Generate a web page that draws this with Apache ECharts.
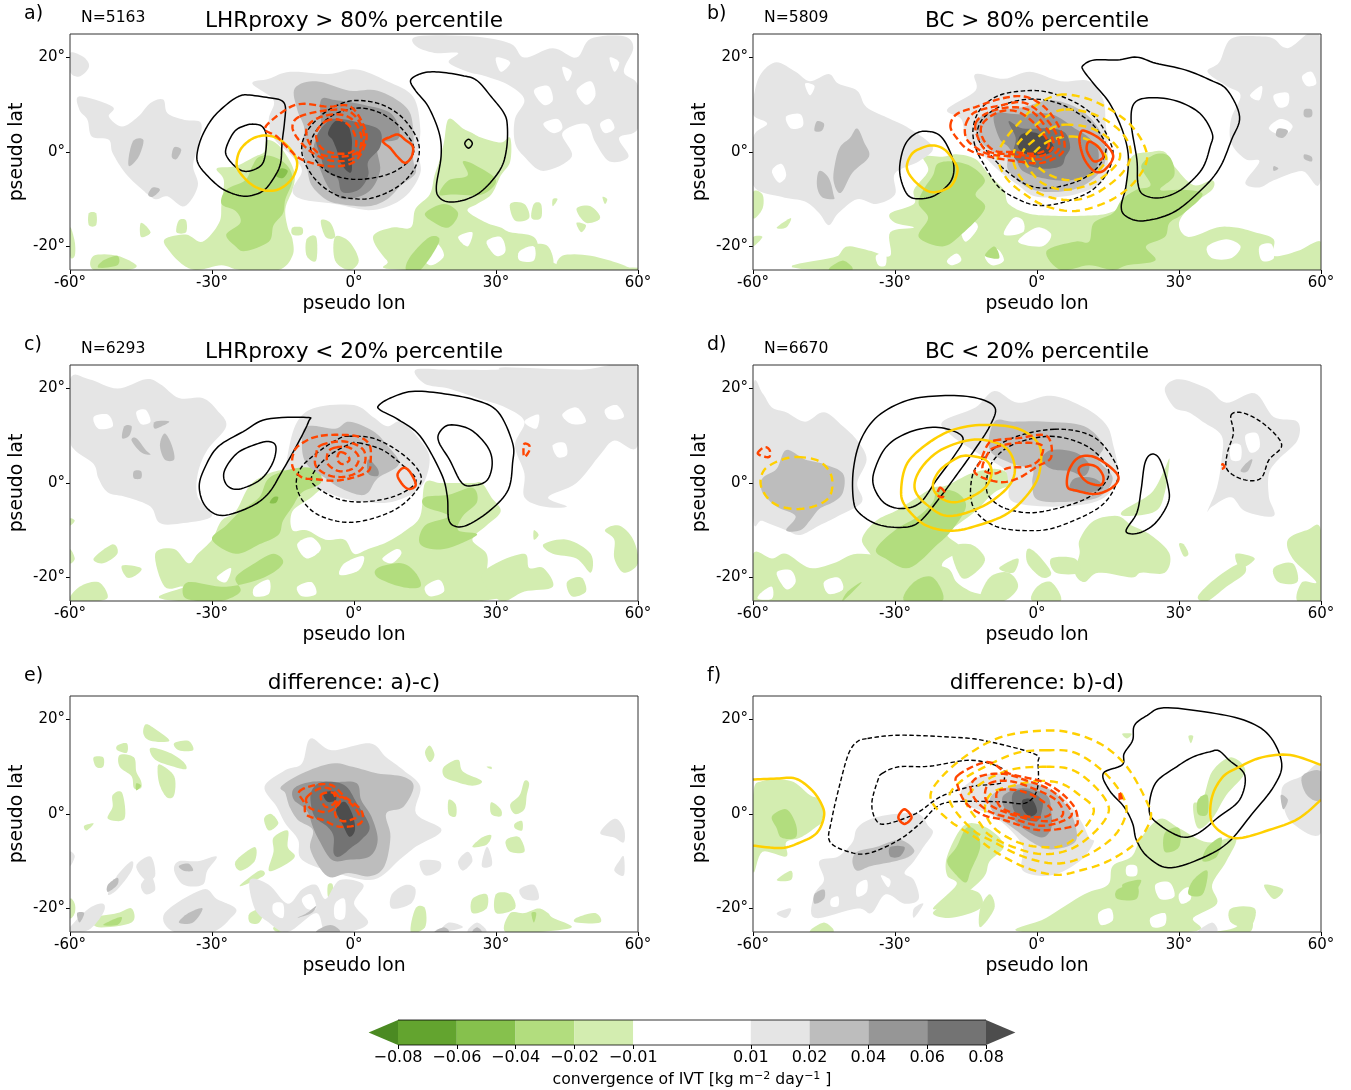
<!DOCTYPE html>
<html><head><meta charset="utf-8">
<script src="https://cdn.jsdelivr.net/npm/echarts@6/dist/echarts.min.js"></script>
<style>html,body{margin:0;padding:0;background:#fff}#c{width:1351px;height:1090px}</style></head>
<body><div id="c"></div>
<script>
// ---------- tick labels / text ----------
const lonTicks=[-60,-30,0,30,60];
const latTicks=[-20,0,20];
const panelLetters=['a)','b)','c)','d)','e)','f)'];
const panelTitles=['LHRproxy > 80% percentile','BC > 80% percentile','LHRproxy < 20% percentile','BC < 20% percentile','difference: a)-c)','difference: b)-d)'];
const panelCounts=['N=5163','N=5809','N=6293','N=6670','',''];
const cbarLabels=['−0.08','−0.06','−0.04','−0.02','−0.01','','0.01','0.02','0.04','0.06','0.08'];

// ---------- panel a (lon,lat) ----------
const aGreen1=[
[[-18.5,2.5],[-16,1.5],[-13.5,-2],[-12.5,-5],[-13,-8],[-14.5,-12],[-14,-16],[-13,-18.5],[-13,-22],[-16,-25],[-24,-25],[-28,-24],[-33,-25],[-36,-24],[-39,-21],[-40,-18.5],[-35.5,-17.5],[-32,-19],[-28.5,-15],[-28,-11],[-27.5,-6],[-29,-3.5],[-25,-3],[-21,-1],[-19,0]],
[[20,7],[23,5],[25,4],[27,3],[31,2],[33,3],[33,-2],[31,-5],[29,-9],[26,-11],[24,-12.5],[28,-15],[31,-16],[33,-17],[38,-18],[40,-22],[46,-24.5],[60,-24.5],[60,-25],[11,-25],[7,-23],[4,-18],[8,-16],[12,-16],[13,-12],[16,-9],[17,-5],[18,-2],[19,2]],
[[-60,-16],[-59,-19],[-59,-22],[-60,-22]],[[-55,-22],[-50,-22],[-46,-24],[-48,-25],[-55,-25]],[[-45,-15],[-43,-17],[-45,-18]],[[-56,-13],[-54.5,-13],[-54.5,-15.5],[-56,-15.5]],
[[-37,-14.5],[-35.5,-14.5],[-35.5,-17],[-37.5,-17]],[[-13,-16],[-11,-16],[-11,-17.5],[-13,-17.5]],[[-7,-14.5],[-5,-15],[-4,-18],[-6,-18]],[[-4,-18],[-1,-19],[1,-23],[-1,-25],[-4,-23]],[[-10,-18.5],[-8,-18],[-8,-23],[-10,-22]],
[[33,-11],[36,-11],[37,-14],[34,-14.5]],[[38,-11],[39.5,-11],[39.5,-14],[37.5,-14]],[[42,-10],[43,-10],[42,-11.5]],[[47,-12],[50,-11.5],[52,-14],[49,-15]],[[47,-15],[49,-15.5],[48,-17]],[[52.5,-9.5],[53.5,-10],[53,-11]],[[38,-20],[41,-20],[42,-24],[38,-25]],[[44,-22],[50,-22],[57,-24],[57,-25],[44,-25]]];
const aGrey1=[
[[-21.5,14.5],[-18,15.5],[-13.5,17],[-5.5,16.5],[0.5,17.5],[7,15],[12.5,11.7],[14,5],[13.5,0],[14,-4.5],[10.5,-9.7],[4,-12.3],[-4,-11],[-11,-10],[-13,-8],[-11,-4],[-13,-1],[-17,3],[-18,7],[-17,11]],
[[-58,11.8],[-51,9.6],[-51.8,7.5],[-49,5.4],[-45.6,7.5],[-43,10.4],[-40.3,11.1],[-39.4,8.2],[-35.8,6.8],[-32.3,6.1],[-33,1.2],[-34,-3],[-33,-7.2],[-35.8,-11.5],[-39.4,-9.4],[-42,-10],[-44.7,-8],[-48.3,-4.5],[-51,-0.2],[-51.8,2.6],[-55.4,3.3],[-56.3,6.8],[-58,8.9]],
[[13.5,24.5],[25,24.5],[33,23],[36,20],[42,22],[47,20],[50,24],[57,24.5],[59,22],[57,17],[60,14],[60,5],[56,3],[58,-1],[54,-2],[51,2],[49,6],[44,4],[46,-1],[40,-4],[36,-1],[34,2],[34,7],[36,11],[33,14],[28,16],[24,17],[20,19],[22,21],[17,21],[13,22.5]],
[[-60,21],[-57,20],[-56,18],[-58,16],[-60,17]]];
const aHoles=[[[38,13],[41,14],[42,11],[40,10]],[[47,13],[50,15],[51,12],[49,10]],[[40,6],[43,7],[44,5],[42,4]],[[52,6],[54,7],[55,5],[53,4]],[[30,20],[33,19],[31,17]],[[44,18],[46,17],[45,15]],[[54,20],[56,19],[55,17]],
[[28,-19],[31,-18],[32,-21],[30,-22]],[[14,-21],[17,-19],[19,-22],[16,-24]],[[35,-21],[38,-20],[38,-23],[35,-23]],[[22,-18],[25,-17],[24,-20]]];
const aGreen2=[
[[-20,-1],[-17,-1],[-14,-3],[-13,-6],[-14.5,-10],[-15,-13],[-17,-15.5],[-18,-19],[-23,-21],[-25,-20],[-27,-17.5],[-24,-15],[-25,-12.5],[-28,-11],[-27,-8],[-23,-6],[-21.5,-3]],
[[23,-2],[26,-3],[30,-6],[27,-9],[21,-9],[18,-9],[20,-6],[24,-5]],[[19,-11],[22,-13],[20,-16],[17,-15],[15,-13]],[[16,-18],[18,-19],[14,-25],[11,-25],[12,-22]],[[-53,-23],[-50,-22],[-50,-24],[-54,-24.5]]];
const aGreen3=[[[-15.5,-3.5],[-14,-4],[-15,-5.5],[-16.5,-5]]];
const aGrey2=[
[[-12.5,13.5],[-8,15],[-1,13],[5,13],[11,9.5],[12.5,5],[12.5,-1.5],[13,-4.5],[10,-7],[7,-10],[3,-11.5],[-3,-11],[-6,-10],[-9,-7],[-10,-3],[-11,1],[-10.5,5],[-12,9]],
[[-46.5,2.5],[-44.5,2.5],[-45.5,-1],[-47.5,-3],[-47.5,-0.5]],[[-38,1],[-36.5,0.5],[-37.5,-1.5],[-38.5,-1]],[[-42.5,-7.5],[-41,-8],[-42.5,-9.5],[-43.5,-9]]];
const aGrey3=[[[-7,11],[-4,11],[2,10],[8,8],[9.5,3],[5,1.5],[5.5,-4],[3,-8.5],[-2,-10],[-5,-8],[-7,-4],[-8.5,1],[-7,5]]];
const aGrey4=[[[-5.5,6.5],[-3,7],[2,6],[5.5,4.5],[5.5,1],[3,-2],[3,-5],[1,-8],[-2.5,-8.5],[-3.5,-5.5],[-6,-4],[-7,-1],[-8,3]]];
const aGrey5=[[[-4,6.5],[-1.5,6],[-0.5,3],[-0.5,0],[-0.5,-4],[-1.5,-4],[-3,-2],[-3.5,0],[-4.5,2.5],[-5.5,4]]];
const aBlack=[
[[-22.5,12.1],[-18,11.5],[-15.5,11],[-14.5,9.6],[-14.7,6.1],[-15.2,1.9],[-15.5,-2.3],[-16.7,-5.1],[-18.9,-8],[-21.6,-9.2],[-24.3,-9.2],[-27.8,-7.8],[-30.9,-5.1],[-33,-2.3],[-33,0.5],[-31.8,4],[-29.6,7.5],[-26.5,10.4],[-24.3,11.8]],
[[-21.2,5.9],[-19.4,5.4],[-18.5,3.3],[-18.8,-0.9],[-19.8,-3],[-22.5,-4.1],[-24.7,-3.4],[-26.9,-0.9],[-26.9,1.2],[-25.2,4.4],[-23,5.6]],
[[12,15.3],[14.8,16.8],[18.4,16.9],[22.8,16.2],[25.9,15.2],[29,11.7],[31.7,8.2],[32.4,5.4],[32.2,0.5],[30.9,-3.7],[27.3,-8],[23.8,-10],[20.2,-10.6],[18,-9.6],[17.4,-7.2],[18.4,-0.9],[18,4],[15.7,9.6],[13,13]],
[[24.2,2.7],[25,1.8],[24.2,0.8],[23.4,1.8]]];
const aBlackDash=[
[[1.5,10.9],[6,10],[10,7.5],[13,3.5],[13.8,0],[12.5,-4],[9,-7.5],[4,-9.7],[0,-9.9],[-4,-9],[-8,-6],[-10.5,-2],[-11,1.5],[-9.5,5],[-6,8.5],[-2,10.5]],
[[0.5,9.3],[5,8.5],[9,6],[12,2.5],[12.6,0],[11,-2.5],[7,-4.8],[1,-5.8],[-4,-5],[-7.5,-2.5],[-9.2,1],[-8,4.5],[-4.5,7.8]]];
const aGold=[[[-18.4,3.5],[-15.5,2.5],[-13,0],[-12,-2.5],[-13,-5.5],[-15.5,-7.7],[-18.4,-8.2],[-21.5,-7],[-24,-4.5],[-24.8,-2.5],[-24,0.5],[-21.5,2.8]]];
const aOrange=[[[9.3,3.7],[10.8,2.6],[12.4,1.2],[12.2,-0.9],[10.8,-2.3],[9.1,-0.9],[7.7,0.8],[6.1,2.3],[7.7,3.2]]];
const aOrangeDash=[
[[-18.8,5.1],[-14.5,8.9],[-11,10.2],[-5.6,9.6],[-0.7,9.6],[2.4,4.7],[2.2,1.2],[-0.3,-2.3],[-5.6,-3],[-11,-1.6],[-13.6,0.5],[-16.3,3.3]],
[[-11.5,7.5],[-6,8.8],[-1,8.6],[1.8,5],[1.8,1.2],[-0.5,-1.5],[-5,-1.8],[-9,0],[-12,3],[-13,5.5]],
[[-8,7],[-4,8],[-0.5,7],[1.5,3.5],[0.8,0],[-3,-1],[-7,-0.5],[-9.5,2],[-10,5]],
[[-6,6.5],[-3,6.8],[-0.5,5],[0.5,2],[-0.5,0],[-4,-0.3],[-7,1],[-8,4]]];

// ---------- panel b ----------
const bGreen1=[
[[-24,-1],[-20,-1],[-17,-0.5],[-13,-1.5],[-10,-5],[-7,-8],[-6,-11],[-2,-13],[3,-13.5],[10,-13.5],[15,-13],[18,-11],[19,-6],[20,-1],[24,0],[27,0],[29,-3],[33,-7],[37,-6],[37,-8],[33,-11],[30,-15],[32,-18],[38,-16],[42,-16],[46,-17],[50,-18.5],[50,-22],[55,-21],[60,-19],[60,-25],[-45,-25],[-42,-22],[-40,-20],[-35,-21],[-31,-22],[-31,-17],[-26,-16],[-30,-15],[-31,-13],[-26,-11],[-26,-8],[-23,-4]],
[[-60,-8.5],[-58,-9],[-58,-12],[-60,-14]],[[-60,-18],[-58,-18],[-60,-20]],[[-55,-16],[-52,-14],[-53,-16]]];
const bGrey1=[
[[-59.5,13.5],[-58,17],[-55,19],[-51,17],[-48,15],[-44,16.5],[-42,14.5],[-38,13],[-36,9.5],[-31,7],[-27,5],[-22,1],[-25,-2],[-30,-4.5],[-30,-9],[-34,-11],[-38,-10],[-42,-13],[-44,-15.5],[-46,-13],[-49,-10.5],[-54,-9.5],[-60,-7],[-60,3],[-57,6],[-60,8]],
[[-19,9],[-13,13],[-13,16.5],[-7,15.5],[-1.5,17],[5,15],[11,15],[14,11],[14.5,6],[15,0],[14,-6],[8,-9],[0,-9.5],[-4,-7],[-8,-4],[-12,0],[-15,3],[-16,7]],
[[38.5,19],[41,24],[47,24.5],[50,24],[53,22],[60,24],[60,-5.5],[56,-4],[50,-6],[47,-7.5],[44,-6.5],[47,-2],[44,-1.5],[41,2],[41,7],[43,12],[40,14],[36,17]]];
const bHoles=[[[-53,7.5],[-50,8],[-49.5,5.5],[-52,5]],[[-49,14.5],[-47,14],[-48,12]],[[-56,-4],[-54,-2.5],[-53,-5],[-54.5,-6.5]],
[[50,12],[53,12.5],[53,10],[51,9.5]],[[49,5],[51.5,7],[54,5.5],[52,3.5]],[[45,12],[47.5,14],[47,11]],[[56,16],[58,17],[59,14.5],[57,14]],
[[-16,-16.5],[-14,-14.5],[-12.5,-16],[-15,-19]],[[-5,-14],[-3,-14.5],[-3,-17],[-7,-17.5]],[[-19,-23],[-17,-21.5],[-16,-23],[-18,-24]],[[-4,-19],[0,-16],[3,-17.5],[1,-20]],[[-11,-22],[-8.5,-20.5],[-7,-23],[-9.5,-24]],[[36,-20],[40,-18.5],[43,-20],[41,-22.5],[37,-22.5]],[[47,-20],[49.5,-19.5],[50,-22.5],[47.5,-23]],[[-34,-22],[-32,-21.5],[-32,-24],[-33.5,-24]]];
const bGreen2=[
[[-21,-2.5],[-18,-2],[-14,-3],[-11,-6],[-13,-9],[-11,-12],[-16,-17.5],[-20,-20],[-25,-18],[-23,-14],[-25,-11],[-24,-8],[-22,-5]],
[[25,-0.5],[28,-1],[29,-5],[26,-8],[31,-8],[35,-9],[31,-13],[28,-15],[27,-18],[23,-20],[25,-23],[19,-24],[16,-25],[11,-24],[5,-25],[2,-21],[8,-19],[11,-19],[12,-15],[16,-13],[18,-10],[21,-8],[24,-7],[22,-3]],
[[-44,-25],[-41,-23],[-39,-25]],[[-11,-22],[-9,-20],[-8,-22.5]]];
const bGrey2=[
[[-13,6],[-10,8.5],[-3,9.5],[3,11],[9,9],[13,5],[14.5,0],[13.5,-4],[9,-7.5],[3,-8.5],[-2,-7.5],[-6,-4],[-6.5,-1],[-10,0.5],[-12,2.5]],
[[-38,5],[-36.5,2],[-35.5,-1],[-39,-4.4],[-41.5,-8.7],[-43,-6],[-42.5,-1.6],[-41.5,1.2],[-39.5,3]],
[[-46,-4],[-44,-5.5],[-43,-9],[-43,-10],[-45.5,-9.5],[-46.5,-7]],[[-46.5,6.5],[-45,6],[-45.5,4.5],[-47,4.5]],
[[56.5,9],[58,9],[58,7.5],[56.5,7.5]],[[51,5],[53,4.5],[52,3],[50.5,3.5]],[[56.5,-0.5],[58,-1],[58,-2],[56.5,-1.5]],[[50,-3],[51,-3.5],[50,-4]]];
const bGrey3=[[[-9,8],[-4,8],[3,8],[8,5],[11,3],[13,0],[12,-4],[7,-6],[1,-5.5],[-3,-4],[-4.5,-1.5],[-6,1],[-8,3]]];
const bGrey4=[[[-6,6.5],[-3,5],[3,5],[6,4],[7,1],[6,-1],[5,-3],[1,-3.5],[-4,-2],[-5,0],[-4.5,3]]];
const bGrey5=[[[-3.5,3.5],[-1,4.2],[2,3],[3.5,1],[2,-0.5],[-2,-0.5],[-4,1]]];
const bBlack=[
[[9.8,18.4],[12.1,19.5],[17,19.5],[21.1,20.1],[25.1,18.8],[31.3,17.4],[36.7,15.2],[40.2,13.1],[42.8,7.5],[41.1,2.6],[38.4,-3.7],[34,-8.7],[28.6,-12.9],[22.4,-14.6],[18.8,-13.6],[17.8,-11.5],[18.8,-7.2],[19.3,-0.9],[18,4.7],[15.3,10.4],[12.2,14.2],[9.8,17.3]],
[[20.6,10.4],[24.2,11.5],[29.5,10.8],[34.4,8.2],[37,4],[36.6,1.2],[34.8,-3.7],[30.4,-8],[26,-9.7],[22.4,-9],[21.3,-6.5],[21.1,-1.6],[19.9,6.1]],
[[-23.8,4.4],[-20.3,3.3],[-17.8,-1.6],[-18,-5.8],[-21.2,-9],[-24.7,-9.9],[-27.4,-9],[-29,-4.4],[-28.3,0.5],[-26.5,3.3]]];
const bBlackDash=[
[[-2,13],[3,12.5],[9,10],[13,6.5],[15.5,2],[16,-1],[14.5,-5],[11,-8.5],[5,-10.8],[0,-11.3],[-4,-10],[-8,-7.5],[-11,-3],[-13,1],[-13.5,5],[-12,9],[-8,12]],
[[-1.6,11.2],[4,10.5],[9,8],[12.5,5],[14.6,1],[13,-3],[9,-6],[3,-7.6],[-2,-7],[-6.5,-4],[-9.5,-1],[-12.5,3],[-11.5,7],[-7,10]]];
const bGold=[[[-22,1.4],[-19.5,0.5],[-17.5,-2],[-16.8,-4],[-18,-7],[-20.5,-8.3],[-23,-8.3],[-26,-6],[-27.5,-3.3],[-26.5,-0.5],[-24.5,0.8]]];
const bGoldDash=[
[[4.6,12.1],[10,11.5],[15.5,9],[20,5.5],[22.8,1],[23,-2.5],[20,-7],[15,-10.5],[8.2,-12.5],[2,-11.5],[-2.5,-9],[-6.5,-5.5],[-8.3,-1],[-6.5,3],[-3,7],[0,10]],
[[6,9],[12,8],[17,5],[19.5,1.5],[19.5,-2],[17,-5.5],[12,-9],[7,-10.2],[1,-9],[-3,-6],[-5,-2],[-4.5,1],[-2,4],[2,7.5]],
[[6,5.8],[11,5.2],[15,3],[17.5,0],[16.5,-3],[12,-6.5],[6,-8],[1,-6.5],[-2,-3],[-3,0],[0,3],[3,5]],
[[7,3.3],[11,2.5],[14,0],[14.5,-2],[12,-4.5],[7,-6],[2,-4.5],[-1,-1.5],[0,0.5],[3,2.5]]];
const bOrange=[[[10,4.5],[13,3],[15.5,0.5],[16,-1.5],[14,-4],[12,-4],[10,-1.5],[9,2],[9.2,4]],[[11,2.2],[13,1],[14,-1],[12.5,-2],[11.5,-1.5],[10.5,0.5]]];
const bOrangeDash=[
[[-18.3,5.5],[-17,8],[-13,9.5],[-8,11.2],[-3,11.8],[1,10],[4,6.5],[5.8,2],[5,-0.5],[1,-2.3],[-4,-2],[-10,-1],[-14.5,0.5],[-17,3]],
[[-15,6],[-13,8.5],[-8,9.8],[-3,10.5],[1,8],[4,4],[4.5,0.5],[1,-1.5],[-4,-1],[-10,-0.5],[-13,1],[-15,3]],
[[-13,6],[-10,8.5],[-5,9.5],[-1,8.5],[2,5],[3.5,1.5],[1,-0.8],[-5,-0.5],[-10,0],[-12,2]],
[[-11.5,6],[-8,8.5],[-4,8.5],[0,5.5],[2.5,1.5],[0,-0.3],[-5,0],[-9,0.3],[-11.5,3]]];

// ---------- panel c ----------
const cGreen1=[
[[-22,-0.5],[-18,2],[-14,3],[-10,3.5],[-6,3],[-6,0],[-9,-3],[-13,-6],[-13,-10],[-10,-10],[-6,-12],[-2,-12],[0,-15],[3,-14],[7,-12.5],[11,-10],[14,-7],[15,0],[18,0],[20,0],[25,0],[27,0],[29,-3],[31,-6],[28,-9],[25,-12],[28,-15],[28,-19],[27,-25],[-37,-25],[-36,-22],[-40,-22],[-42,-15],[-38,-14],[-35,-17],[-33,-15],[-30,-12],[-28,-8],[-25,-6]],
[[38,-10],[39,-11],[38,-12]],[[40,-13],[45,-12],[50,-15],[50,-19],[47,-16],[42,-15]],[[53,-10],[56,-9],[59,-12],[60,-17],[57,-19],[55,-16],[55,-12]],[[30,-17],[36,-15],[37,-18],[40,-18],[42,-22],[36,-23],[31,-25],[27,-20]],
[[-60,-14],[-59,-16],[-60,-17]],[[-55,-16],[-51,-13],[-50,-15],[-53,-17]],[[-54,-21],[-52,-24],[-54,-25],[-60,-25],[-58,-22]],[[-49,-17.5],[-45,-18],[-46,-19.5],[-48,-20]],[[-60,-7.5],[-59,-8],[-60,-9]],[[45,-21],[48,-20],[49,-23],[46,-24]]];
const cGrey1=[
[[-60,22],[-56,22],[-50,20],[-44,22],[-41,21],[-37,18],[-32,18],[-29,15.5],[-27,12],[-31,7],[-33,2],[-33,-3],[-30,-7],[-36,-8.5],[-41,-8.5],[-43,-5],[-48,-3],[-52,-2],[-54,1],[-55,4],[-59,7],[-60,10]],
[[-12,13],[-8,16],[0,16.5],[4,14],[7,12],[10,13],[14,9],[16,5],[14,-1],[8,-4],[2,-4],[-3,-3],[-8,-1],[-14,1],[-14,6]],
[[13,24],[20,24],[30,24],[32,24.5],[48,24],[60,24.5],[60,8],[55,9],[52,6],[47,0],[41,-3],[45,-5],[40,-5],[36,-3],[36,2],[34,8],[36,13],[32,16],[26,18],[20,20],[15,21]]];
const cHoles=[[[-55,14],[-52,14.5],[-51,12],[-54,11.5]],[[-46,15],[-44,15.5],[-43,13],[-45,12.5]],[[44,14.5],[47,16],[49,13],[46,12.5]],[[53,15.5],[55.5,16.5],[57,14],[54,13.5]],[[42,8],[44.5,8.5],[45,6],[43,5.5]],[[36,13],[39,14.5],[38.5,11.5]],
[[-12,-13],[-9,-11.5],[-7,-14],[-10,-16]],[[-2,-17],[2,-15.5],[1,-18.5],[-3,-19.5]],[[-29,-20],[-26,-18],[-27,-21]],[[-12,-22],[-9,-21],[-8,-23.5],[-11,-24]],[[6,-16],[9,-14],[10,-15],[8,-17]],[[15,-22],[18,-20.5],[19,-23],[16,-24]],[[-21,-22],[-18,-20.5],[-18,-23.5],[-21,-24]]];
const cGreen2=[
[[-18,1],[-13,3],[-8,3],[-7,0],[-11,-2],[-13,-5],[-15,-8],[-16,-11],[-20,-13],[-25,-15],[-30,-12],[-27,-9],[-24,-6],[-20,-3]],
[[-21,-17],[-17,-15],[-15,-17],[-19,-20],[-27,-22],[-35,-21],[-36,-24],[-33,-25],[-28,-25],[-24,-23],[-25,-20]],
[[15,-3],[20,-2.5],[25,-1],[26,-4],[23,-7],[22,-10],[26,-11],[19,-14],[14,-13],[15,-9],[20,-7],[15,-5]],
[[5,-18],[10,-17],[13,-19],[14,-22],[10,-22],[5,-20]]];
const cGreen3=[[[-17,-3],[-16,-3],[-16.5,-4.2],[-17.8,-4.2]]];
const cGrey2=[
[[-10,12],[-4,11.5],[-1,13],[4,11],[7,8],[9.5,4],[5,1],[3,-2],[1,-2.5],[-3,-1],[-6,1],[-10,4],[-11,8]],
[[-48.5,12],[-47,12],[-47.5,10],[-49,9.5]],[[-46,9.5],[-44,7],[-43,6],[-45,6.5],[-47,9]],[[-40,10.5],[-38.5,8],[-38,5],[-40,5],[-41,8]],[[-46.5,2.5],[-45,2.5],[-45,1],[-46.5,1]],[[-42,13],[-39,13],[-42,11.5]]];
const cGrey3=[[[3,5],[5,3],[5,1.5],[3,2]]];
const cBlack=[
[[-18.5,13.5],[-10,13.9],[-9.6,13],[-11.8,8.5],[-15.4,2.1],[-18,-2.1],[-21.6,-4.9],[-27.8,-6.9],[-31.4,-4.9],[-32.7,-0.7],[-31.4,3.5],[-28.7,7.7],[-23.4,10.9]],
[[-18,8.8],[-16.5,7.7],[-17.2,4.2],[-19.8,0.7],[-24.3,-1.3],[-26.9,-0.4],[-27.4,2.5],[-24.7,6.3],[-20.7,8.2]],
[[5.3,16.5],[7.7,18],[12.2,19.4],[18.4,19],[25.5,17.6],[30.4,15.1],[33.5,8.5],[33.5,4.2],[32.6,-1.4],[29,-5.6],[24.2,-8.8],[21.5,-9.2],[20,-7.7],[19.7,-2.8],[18.4,2.1],[14,9.9],[9.4,13.4],[5.5,15.5]],
[[20.2,12.3],[24.6,11.3],[28.2,7.7],[29.2,4.2],[28.2,0.7],[25.5,-0.5],[22.8,0],[20.2,4.9],[18,8.5],[18,10.6]]];
const cBlackDash=[
[[-1,9.9],[4,9.5],[9,7],[13,3.5],[14.2,0.5],[12,-3],[8,-6],[2,-8],[-3,-8.2],[-8,-6.5],[-11,-3.5],[-12.2,0],[-11,3.5],[-7,7],[-3,9.5]],
[[1,8.5],[6,7],[10,4],[13,1],[12,-1],[8,-3],[2,-4],[-3,-3.5],[-7,-1.5],[-9,0.5],[-8,3],[-5,6],[-1,8.2]]];
const cOrange=[[[10.4,3.2],[11.7,2.5],[13,0],[12.6,-1],[11.3,-1.2],[10,0],[9.2,1.8]]];
const cOrangeDash=[
[[-7,10],[-3,10.2],[1,9.8],[3.3,8],[3.5,4.5],[3,2.5],[0,1.2],[-4,0.5],[-8,0.8],[-11,1.2],[-13,3.5],[-12.5,7],[-10,9]],
[[-7,8],[-2,8.8],[2,7],[2,3.5],[-1,1.5],[-5,1.5],[-8,3.5],[-8,6]],
[[-4,7.5],[-1,7.5],[1,5.5],[0,3.2],[-3,2.5],[-5.5,4],[-5.5,6.5]],
[[-3,6.5],[-1.5,6],[-1,4.8],[-2.5,4],[-3.5,5]],
[[36,8.3],[37,8],[37,6.8],[36,5.5],[35.8,7]]];

// ---------- panel d ----------
const dGreen1=[
[[-19,-0.5],[-14,2],[-9,3],[-6,2],[-5,0],[-9,-2],[-13,-6],[-17,-9],[-19,-11],[-16,-14],[-20,-17],[-19,-21],[-19,-25],[-30,-25],[-33,-22],[-36,-20],[-40,-17],[-35,-16],[-37,-12],[-34,-8],[-30,-6],[-26,-3.5],[-22,-1]],
[[-60,-15],[-56,-16],[-53,-15],[-48,-18],[-43,-17],[-38,-15],[-30,-16],[-25,-17],[-19,-18],[-17,-21],[-14,-23],[-10,-25],[-60,-25]],
[[9,-12],[12,-8],[17,-7],[20,-9],[24,-11],[28,-15],[27,-19],[22,-19],[20,-20],[13,-19],[10,-21],[8,-19],[9,-15]],
[[-2,-14],[0,-15],[3,-19],[1,-20],[-2,-17]],[[30,-13],[31,-13],[32,-15],[31,-15.5]],[[53,-12],[57,-10],[60,-10],[60,-25],[55,-25],[56,-21],[59,-21],[54,-16]],[[34,-24],[38,-20],[43,-17],[44,-19],[40,-22],[36,-25]],[[42,-15],[46,-16],[43,-18]],[[-8,-18],[-4,-16],[-5,-19]],
[[18,-6],[23,-3],[25,-1],[27,3],[28,5],[27,-2],[25,-6],[19,-7]],
[[-18,-14],[-14,-13],[-11,-16],[-13,-19],[-16,-20]],[[-10,-20],[-6,-19],[-4,-22],[-7,-25],[-12,-25]],[[0,-22],[3,-21],[5,-25],[-1,-25]],[[3,-16],[8,-16],[9,-19],[4,-19]],[[50,-18],[54,-17],[55,-21],[51,-21]]];
const dGrey1=[
[[-60,20],[-58,19],[-56,16],[-53,15],[-49,13],[-45,15],[-41,12],[-38,9],[-36,5],[-38,0],[-37,-4],[-42,-7],[-46,-9],[-50,-11],[-53,-10],[-58,-8],[-60,-7]],
[[-20,13],[-13,16],[-9,19.5],[-4,17],[3,18.5],[10,16],[14.5,12.5],[16,8.5],[17,1.5],[13.5,-3.5],[4.5,-5],[-5,-4],[-6,0],[-7,3],[-12,6],[-18,10]],
[[27,20],[30,22],[36,20],[40,17],[46,19],[50,14],[55,13],[55,9],[51,5],[49,2],[49,-3],[50,-7],[44,-6],[41,-3],[37,-5],[36,-6],[38,-1],[39,5],[39,10],[35,13],[32,15],[29,16]]];
const dHoles=[[[44,10],[46.5,10.5],[47,7.5],[45,6.5]],[[41,8],[43,8],[43,5],[41,5]],[[-55,-19],[-52,-18.5],[-51,-21],[-53,-22.5]],[[-45,-21],[-42,-20],[-41,-22.5],[-44,-23.5]],[[-58,-23],[-56,-22],[-56,-24.5],[-59,-24.5]]];
const dGreen2=[
[[-21,-1.5],[-17,-2],[-15,-5],[-18,-10],[-21,-13],[-27,-18],[-32,-16],[-34,-14],[-30,-10],[-25,-7],[-22,-4]],
[[-26,-21],[-22,-20],[-20,-25],[-28,-25]],[[-40,-23],[-37,-21],[-41,-25]]];
const dGrey2=[
[[-53,7],[-49,5],[-45,4],[-41,2],[-41,-2],[-43,-4],[-46,-5.5],[-48,-8],[-50,-10],[-53,-10],[-51,-7],[-55,-5],[-58,-2],[-58,1],[-55,3]],
[[-9,13],[-5,13],[2,13],[10,12],[14,8],[13,5],[16,1],[13,-3],[6,-4],[0,-3.5],[-1,0],[-1,3],[-5,4],[-10,7]],
[[44,4],[45.5,5],[44.5,2.5],[43,2.5]]];
const dGrey3=[[[3,7],[8,6.5],[11,4],[10,1.5],[7,2.5],[3,3],[1,5]],[[8,1],[12,1],[14,-1],[11,-2],[7,-1.5]]];
const dBlack=[
[[-33.6,14.2],[-27.4,17.5],[-20.3,18.5],[-13.2,18.1],[-8.9,16],[-10,12],[-13.2,7],[-16.7,2.1],[-20.3,-2.8],[-24.7,-8.1],[-28.3,-9.4],[-33.6,-8.8],[-37.6,-6.3],[-38.8,-3.5],[-38.8,2.8],[-37.2,9.2]],
[[-27.4,10.6],[-22,11.8],[-17.6,11],[-15.6,9.2],[-17.6,5.6],[-21.2,0.7],[-24.7,-4.2],[-28.7,-5.4],[-32.3,-4.2],[-34.5,-0.7],[-34.3,2.8],[-31.8,7.7]],
[[24.2,6.1],[26,4.9],[27.7,-0.7],[27.7,-4.2],[25,-8.5],[21.5,-10.6],[18.8,-10.2],[21.1,-6.3],[22,-1.4],[22.8,4.2]]];
const dBlackDash=[
[[3.7,11.4],[11.7,9.9],[16.2,4.9],[17,0.7],[13.5,-4.9],[4.6,-9.2],[-1.6,-10.1],[-8.7,-9.2],[-13.2,-5.6],[-14,-0.7],[-12.3,4.2],[-6,9.2]],
[[2.8,9.9],[10,8.1],[14.4,4.2],[14.8,0.7],[10,-3.5],[0.2,-6.2],[-6,-5.6],[-9.6,-3.5],[-10.7,-0.7],[-9.6,4.2],[-5.2,8.1]],
[[41,14.4],[43.7,14.8],[48.2,12.3],[51.7,8.1],[49,4.9],[47.3,1],[43.7,0.7],[40.2,2.8],[40.2,6.3],[41.5,10.6]]];
const dGold=[
[[-11.4,12.3],[-4.3,11.6],[0.2,8.5],[0.8,4.2],[-0.7,-0.7],[-6,-6.3],[-13.2,-9.2],[-18.5,-10.1],[-23.8,-8.8],[-27.8,-4.9],[-28.7,-1.4],[-27.4,4.2],[-22.9,8.5],[-17.6,11.3]],
[[-13.2,9.2],[-6.9,7.7],[-4.7,3.5],[-6,-0.7],[-11.4,-4.9],[-18.5,-7],[-22.9,-4.9],[-25.8,-1.4],[-24.7,2.8],[-20.3,7]],
[[-15,5.8],[-10.9,4.9],[-9.6,2.1],[-11.4,-1.4],[-16.7,-4],[-20.3,-3.2],[-22,-0.7],[-20.7,2.5],[-17.6,4.9]]];
const dGoldDash=[[[-50.5,5.5],[-46,4.6],[-43.4,1.4],[-43.8,-2.8],[-47,-4.9],[-51.4,-5.5],[-55.8,-4.2],[-58.3,-0.7],[-57.6,2.8],[-54,4.9]]];
const dOrange=[[[9,5.5],[12.6,5.3],[17,1.8],[16.2,-0.7],[12.6,-2.3],[8.2,-1.6],[6.4,-0.7],[6.8,2.8]],[[10.4,3.9],[12.6,3.4],[14,1.4],[13.5,-0.4],[10.8,0.1],[9.1,1.8],[8.9,3.2]]];
const dOrangeDash=[
[[-9,9],[-4,9.5],[2,10],[3,5.5],[0,3.5],[-4,1],[-8,0.2],[-13,2],[-12,4.5],[-10.5,8]],
[[-9,7.5],[-4,8.5],[1,8],[0.5,5],[-2,3.5],[-6,3.2],[-9,2],[-11.5,3],[-10.5,6]],
[[-20.5,-1],[-19.5,-2],[-20,-3],[-21,-2.5]],[[39.2,4],[39.6,3.4],[39,3]],
[[-59,6.3],[-57.6,7.6],[-56.5,7],[-56.5,5.6],[-57.6,5.6]]];

// ---------- panel e ----------
const eGreen1=[
[[-44,19],[-42,18],[-39,15.5],[-43,15.5],[-44.5,17]],[[-38,15],[-35,15.5],[-34,13.5],[-37,13.5]],[[-50,14.5],[-48,15],[-48,13],[-50,13.5]],[[-55,12],[-53,12],[-53,10],[-54.5,10]],
[[-49.5,12.5],[-46.5,12],[-46,9],[-45,7],[-45,5.5],[-46.5,5.5],[-47,8],[-49.5,10]],[[-43,14],[-39,13],[-36,11],[-35.5,9.5],[-38,10],[-42,11.5]],[[-41,10.5],[-38,8],[-38,4],[-39.5,3.5],[-41,6],[-41.5,9]],[[-51,4],[-49,4.5],[-48.5,-1],[-52,-1],[-51,1.5]],[[-57,-2.5],[-55,-2],[-56.5,-3.5]],
[[-19,-1],[-17.5,0],[-16,-2],[-18,-3.5]],[[-17,-5],[-14,-3.5],[-14,-7],[-12.5,-9],[-15,-11],[-18,-12],[-17,-8]],[[-25,-10],[-21,-7],[-21,-10],[-24,-12]],[[-24,-15],[-20,-12],[-19,-13],[-23,-15]],[[-19,-16],[-18,-16],[-18.5,-17]],[[-5.5,-15],[-4.5,-15],[-4.5,-18],[-5.5,-17.5]],
[[19,10],[22,11.5],[23,9],[27,7],[25,6],[21,7],[19,8]],[[36,7],[35,4],[33,2],[34,0],[36,1],[36.5,4],[37,6.5]],[[29,2.5],[31,1],[31,-0.5],[29,0]],[[20,3],[21.5,2],[21.5,-0.5],[20,0]],[[34,-2],[35.5,-1.5],[35.5,-3.5],[34,-3]],[[27,-5],[29,-4.5],[28,-6.5],[25,-7]],[[33,-5],[35,-5],[36,-8],[33,-8],[32,-6]],[[16,14.5],[17,12.5],[16,11],[15,13]],[[28,10],[29,10],[29,9.5]],
[[-60,-18],[-59,-19],[-59,-21],[-60,-22]],[[-55,-22],[-50,-21],[-47,-20],[-47,-23],[-54,-24]],[[-30,-20],[-27,-19],[-26,-20.5],[-28,-21.5]],[[-22,-21],[-19,-20],[-20,-23],[-22,-23]],[[-17,-24],[-14,-23],[-13,-24],[-16,-25]],[[13,-20],[15,-20],[15,-24],[12,-25]],[[25,-18],[28,-17],[28,-20],[25,-21]],[[30,-17],[33,-17],[34,-20],[30,-21]],[[33,-21],[36,-21],[39,-20],[41,-21],[42,-22],[46,-24],[39,-25],[32,-25]],[[47,-22],[51,-21],[52,-23],[47,-23]]];
const eGrey1=[
[[-9.2,16],[-4.7,13.5],[3.3,15],[6.8,12],[10.4,9.3],[14,5.8],[13.1,0.1],[18.5,-3.4],[13.1,-6.9],[9.6,-9.7],[4.2,-13.9],[-3.8,-12.5],[-11,-9.7],[-11.8,-5.5],[-14.5,-2],[-16.3,1.5],[-18.9,5.8],[-14.5,9.3],[-11,10.7]],
[[-60,-8],[-59,-9],[-60,-11]],[[-50,-13],[-47,-10],[-47,-12],[-50,-16],[-52,-17]],[[-46,-11],[-43,-9],[-42,-13],[-44,-14]],[[-37,-10],[-33,-10],[-29,-9],[-31,-12],[-32,-15],[-36,-15],[-38,-12]],[[-45,-15],[-43,-13],[-42,-16],[-44,-17]],
[[-60,-24],[-56,-20],[-53,-19],[-53,-21],[-56,-24.5],[-60,-25]],[[-40,-21],[-32,-16],[-29,-18],[-25,-20],[-26,-22],[-30,-25],[-38,-25]],
[[-22,-14],[-18,-15],[-14,-19],[-11,-16],[-8,-15],[-6,-18],[-3,-14],[2,-15],[0,-19],[3,-23],[-1,-25],[-6,-25],[-8,-21],[-14,-25],[-18,-23],[-21,-20]],
[[8,-17],[11,-15],[13,-16],[12,-19],[8,-20]],[[18,-25],[20,-23],[23,-24],[19,-25]],[[24,-25],[26,-23],[28,-25]],[[35,-16],[38,-15],[39,-18],[36,-18]],[[22,-10],[24,-8],[25,-10],[23,-12]],[[14,-10],[18,-10],[18,-12],[15,-13]],[[28,-7],[29,-9],[29,-11],[27,-11]],[[55,-1],[57,-3],[57,-6],[55,-5],[52,-4]],[[56,-10],[57,-9],[57,-13],[55,-12]]];
const eHoles=[[[-11,-18],[-9,-17],[-8,-20],[-10,-20]],[[-17,-19],[-15,-19],[-15,-22],[-17,-21]],[[-4,-19],[-2,-18],[-2,-22],[-4,-22]]];
const eGreen2=[[[-50,-22],[-49,-22],[-50,-23.5],[-53,-23.5]],[[-46,6.5],[-45,6],[-46,5]],[[37.5,-21],[38.5,-21],[38,-23]]];
const eGrey2=[
[[-15.4,5.8],[-11,8.6],[-4.7,10.7],[-0.3,10],[5,8.6],[10.4,7.9],[12.6,5.8],[10.4,1.5],[6.8,0.1],[7.7,-4.8],[6.4,-11.1],[3.3,-13.2],[-1.2,-12.5],[-5.6,-13.2],[-9.2,-7.6],[-8.7,-3.4],[-11.8,-1.3],[-13.6,1.5],[-14.5,4.4]],
[[-37,-11],[-35,-10.5],[-34,-12],[-36,-12]],[[-52,-15],[-50,-13.5],[-50,-15],[-52,-16.5]],[[-58.5,-21],[-57,-21],[-58,-23]],[[-35,-21],[-32,-20],[-34,-23],[-37,-23]],[[-10,-21],[-8,-19.5],[-9,-21],[-12,-22]],[[-8,-25],[-5,-23.5],[-3,-25]],[[17,-25],[19,-24],[20,-25]],[[25,-25],[26,-24],[27,-25]]];
const eGrey3=[[[-12.7,5.4],[-9.2,6.8],[-3.8,6.8],[0.6,6.5],[1.5,3],[3.7,-0.6],[5,-5.5],[3.3,-9],[-1.2,-9.7],[-4.7,-9.7],[-7.4,-5.5],[-8.7,-2.7],[-10,0.8],[-12.7,3]]];
const eGrey4=[[[-8.7,5.4],[-6.5,6.8],[-2,6.1],[0.6,2.3],[3.3,-2.7],[1.5,-5.5],[-0.3,-6.9],[-3,-9],[-4.3,-8.3],[-4.3,-4.8],[-5.6,-2.7],[-8.3,-0.6],[-9.2,3]]];
const eGrey5=[[[-6.5,4.4],[-4.3,4.7],[-3.8,3],[-5.6,2.6]],[[-2,2.6],[-0.3,-0.2],[0.2,-3.4],[-1,-4.8],[-2.5,-2],[-3.8,0.8]]];
const eOrangeDash=[
[[-11.6,4.7],[-8.3,6.1],[-4.7,6.1],[-2,3.7],[1.5,0.8],[1.3,-2],[-3,-2.7],[-6.5,-1.3],[-10,-0.2],[-10.5,2.3]],
[[-10,3.5],[-7,5.5],[-4.5,5],[-3,2.5],[-5.5,0.5],[-8,0.8],[-9.5,1.5]],
[[-3,3.5],[-1,2.5],[1,0],[0,-1],[-2.5,-1.5],[-4,0]],
[[-7,4],[-4.5,4.5],[-4,2.5],[-6,1.5]]];

// ---------- panel f ----------
const fGreen1=[
[[-58,7],[-52,7],[-48,4],[-46,3],[-45,-1],[-47,-3],[-50,-5],[-53,-6],[-53,-9],[-58,-8],[-60,-12],[-60,4]],
[[-16,-3],[-13,-2],[-9,-4],[-7,-7],[-10,-10],[-11,-13],[-14,-16],[-18,-19],[-22,-20],[-17,-15],[-19,-13],[-19,-9]],
[[2,-22],[10,-17],[15,-15],[16,-11],[20,-9],[22,-5],[26,-1],[30,-3],[36,-6],[42,-5],[40,-10],[37,-15],[38,-19],[33,-22],[32,-25],[-3,-25]],
[[37,9],[41,12],[44,9],[40,4],[37,-1],[34,-3],[33,2],[35,3]],[[18,17],[20,17],[19,16]],[[32,16.5],[33,16.5],[32.5,15]],[[-22,-21],[-18,-18],[-15,-16],[-12,-17],[-12,-20],[-18,-22]],[[-12,-20],[-10,-17],[-9,-20],[-12,-24]],[[-48,-25],[-45,-23],[-43,-25]],[[38,-25],[42,-24],[45,-21],[45,-25]],[[48,-15],[52,-16],[50,-18]],[[-55,-14],[-52,-12],[-52,-14]],[[41,-20],[46,-20],[45,-24],[41,-23]],[[33,-11],[37,-12],[36,-17],[33,-16]]];
const fGrey1=[
[[-16,5],[-12,8],[-7,8.5],[-1,7],[5,4],[9,-1],[11,-5],[12,-6],[9,-10],[3,-13],[-3,-12],[-3,-7],[-6,-3],[-10,0],[-15,2]],
[[-35,-1],[-30,0],[-25,0],[-23,-2.5],[-22,-4],[-24,-7],[-26,-10],[-28,-12.5],[-26,-14],[-25,-18],[-28,-19],[-32,-17],[-35,-21],[-38,-20],[-47,-22],[-47,-17],[-45,-14],[-46,-10],[-42,-9],[-39,-6],[-38,-3]],
[[52,6],[56,8],[60,10],[60,-4],[54,-2],[52,2]],[[-26,-20],[-24,-19],[-26,-22]],[[-55,-21],[-52,-20],[-53,-22]],[[34,-25],[37,-23],[38,-25]]];
const fHoles=[[[-38,-15],[-36,-14],[-36,-16.5],[-38,-17.5]],[[-33,-13],[-31,-14],[-31.5,-15.5]],[[-43.5,-18],[-42,-17.5],[-42,-19.5],[-43.5,-19.5]],
[[25,-15],[28,-14.5],[29,-17.5],[26,-18]],[[30,-17],[32,-15.5],[32.5,-18],[30.5,-19]],[[13,-21],[15.5,-20],[16,-22.5],[13.5,-23.5]],[[24,-22],[27,-21],[27,-23.5],[24.5,-24]],[[19,-11],[21,-11],[21,-13],[19,-13]]];
const fGreen2=[
[[-56,-0.5],[-53,1],[-51,-2],[-51,-5],[-54,-5],[-55,-3]],[[-15,-3],[-13,-3.5],[-12,-7],[-14,-12],[-15,-14.5],[-17,-13],[-19,-10],[-17,-7]],
[[27,-4],[30,-3],[30,-7],[27,-8]],[[36,-7],[39,-5],[38,-9],[35,-10]],[[33,-14],[36,-12],[35,-17],[32,-17]],[[18,-15],[22,-14],[20,-17]],[[34,3],[36,4],[36,0],[34,0]],[[17,-16],[21,-15],[21,-18],[17,-18]]];
const fGrey2=[
[[-8,5],[-2,6.5],[3,5],[6,2],[8,-2],[8,-6],[3,-7.5],[-1,-6],[-5,-3],[-9,0],[-10,3]],
[[-38,-8],[-34,-7],[-29,-5.5],[-26,-7.5],[-27,-9],[-30,-10],[-35,-11],[-38,-12],[-39,-10]],[[-47,-17],[-45,-16],[-45,-18],[-47,-19]],[[51.5,4],[53,3],[52,1]],[[56,8],[60,9],[60,3],[57,4]]];
const fGrey3=[[[-7,4],[-3,5.5],[2,4],[3,0.5],[3,-3],[1,-5],[-3,-3],[-5,-1],[-7,1.5]],[[-31,-7],[-28,-7],[-29,-9],[-31,-9]]];
const fGrey4=[[[-5,4.5],[-2,5],[1,3],[1,0.5],[0,-1.5],[-3,-1],[-5,1]]];
const fGrey5=[[[-3,3],[-1,3],[0,0.5],[-1.5,-0.5],[-3,1]]];
const fBlack=[
[[26.8,22.5],[35.7,21.6],[43.7,19.9],[49,16.7],[51.7,10.7],[50,5.8],[45.5,0.1],[40.2,-6.2],[34,-9.7],[27.7,-11.4],[23.3,-9],[21,-5.5],[20.2,-2],[18.4,1.5],[15.3,5],[14,8.6],[18,10.4],[18.4,12.8],[20.2,15.6],[20.6,18.8],[23.3,20.9]],
[[38.4,13.4],[40.6,11.4],[43.9,8.2],[42.8,3],[38.4,-0.6],[34,-4.1],[30.4,-4.8],[25.5,-2],[23.7,0.8],[25,6.5],[29.5,10],[33,12.1],[36.6,13.2]]];
const fBlackDash=[
[[-35.8,16],[-29.2,16.7],[-18.5,16.3],[-11.4,15.6],[-0.7,12.8],[0.2,10.7],[0,5.1],[-2.5,2.3],[-7.8,2.6],[-17.6,2.6],[-21.2,1.5],[-24.7,-2],[-29.2,-5.5],[-35.5,-8.3],[-39.8,-8],[-43.8,-5.8],[-43.4,-1.3],[-41.6,6.5],[-39.8,12.8],[-38,15.3]],
[[-32.7,8.6],[-29.2,10],[-22.9,10.1],[-14,11.4],[-7.8,9.9],[-6.9,8.2],[-7.8,6.5],[-14,5.8],[-20.3,3.7],[-25.6,0.1],[-31.8,-2.1],[-34,-1.3],[-34.9,2.3],[-33.6,7.2]]];
const fGoldOpen=[
[[60,10.4],[53.5,12.5],[47.5,12],[42.8,10],[39.3,7.9],[37,3.7],[36.8,-1.3],[39.3,-4.1],[42.8,-5.1],[49,-3.4],[55.2,-1],[60,3]],
[[-60,7.3],[-55,7.5],[-51,7.5],[-47.5,5],[-45.5,2],[-45,-0.5],[-46.5,-4],[-50,-6],[-54,-7.2],[-60,-6.7]]];
const fGoldDash=[
[[2,17.7],[8,17],[14,14.5],[19,10],[23,3],[24,-1],[21,-6],[15,-10],[9,-12],[4,-12.9],[-2,-11.5],[-8,-8.5],[-13,-5],[-19,-1],[-22.5,3.5],[-20,8],[-14,13],[-7,16.5]],
[[2,13.5],[8,13],[14,9],[18,4],[18.8,0],[16,-5],[10,-9],[4,-10.5],[-3,-9],[-9,-6],[-14,-3],[-18.5,3],[-16,7],[-10,10.5],[-4,13]],
[[2,10],[7,9.5],[11,7],[14.5,3],[15,0],[12,-4],[7,-7.5],[1,-8.5],[-5,-7],[-10,-4.5],[-12,-2],[-15,3],[-11,7],[-5,9.5]],
[[0,7],[5,6.5],[9,4],[12,1],[10,-3],[6,-6.5],[1,-7],[-4,-6],[-9,-3],[-11,1],[-9.5,4.5],[-5,6]]];
const fOrange=[[[-28,1],[-26.5,-0.7],[-28,-2.1],[-29.3,-0.7]]];
const fOrangeDash=[
[[-16.7,8.2],[-10.5,11],[-6,8.6],[2,6.5],[7.3,2.3],[8.6,-1.3],[7.3,-2.7],[0.2,-3.4],[-6.9,-1.3],[-11.4,-0.2],[-15,2.3],[-16.7,5.8]],
[[-12,8],[-7,8.5],[-2,7],[3,5],[7,1],[6.5,-1],[1,-2.5],[-5,-1],[-10,0.5],[-13,3],[-14,6]],
[[-10,6.5],[-6,7],[-1,5.5],[4,3],[5.5,0],[3,-1.5],[-2,-1],[-7,0.5],[-10,2],[-11,4]],
[[-8,5],[-4,5],[0,3.5],[3,1],[2,-0.5],[-2,-0.5],[-7,1],[-8.5,3]],
[[17.5,4.5],[18,3],[17.5,3]]];

// ---------- styles ----------
const C={g1:'#d3edb0',g2:'#b2dd7e',g3:'#88c14d',k1:'#e5e5e5',k2:'#bdbdbd',k3:'#969696',k4:'#737373',k5:'#4d4d4d',w:'#ffffff'};
const cbarColors=['#63a42f','#86c14d','#b2dd7e','#d3edb0','#ffffff','#ffffff','#e5e5e5','#bdbdbd','#969696','#737373'];
const ORANGE='#ff4500',GOLD='#ffd000';
const S={black:{stroke:'#000',lineWidth:1.5},bdash:{stroke:'#000',lineWidth:1.4,lineDash:[4.5,2.5]},
 gold:{stroke:GOLD,lineWidth:2.5},gdash:{stroke:GOLD,lineWidth:2.4,lineDash:[8,5]},
 or:{stroke:ORANGE,lineWidth:2.5},odash:{stroke:ORANGE,lineWidth:2.4,lineDash:[7,3.5]}};

const gridLeft=[70,753],gridTop=[34,365,696];
const grids=[],xAxes=[],yAxes=[],titles=[],series=[];

// rounds the pixel outline of a contour through its traced points
function roundPath(pts,closed){
 const n=pts.length,out=[];
 const at=i=>closed?pts[(i+n)%n]:pts[Math.max(0,Math.min(n-1,i))];
 const last=closed?n:n-1;
 for(let i=0;i<last;i++){
  const p0=at(i-1),p1=at(i),p2=at(i+1),p3=at(i+2);
  for(let s=0;s<8;s++){
   const t=s/8,t2=t*t,t3=t2*t;
   out.push([0,1].map(k=>0.5*(2*p1[k]+(p2[k]-p0[k])*t+(2*p0[k]-5*p1[k]+4*p2[k]-p3[k])*t2+(3*p1[k]-p0[k]-3*p2[k]+p3[k])*t3)));
  }
 }
 if(!closed)out.push(pts[n-1]);
 return out;
}
function fillSeries(g,polys,fill){return{type:'custom',xAxisIndex:g,yAxisIndex:g,silent:true,clip:true,z:2,
 data:polys.map((p,i)=>[p[0][0],p[0][1],i]),encode:{x:0,y:1},
 renderItem:(params,api)=>({type:'polygon',shape:{points:roundPath(polys[params.dataIndex].map(q=>api.coord(q)),true)},style:{fill:fill,stroke:null}})};}
function lineSeries(g,polys,style,open){return{type:'custom',xAxisIndex:g,yAxisIndex:g,silent:true,clip:true,z:3,
 data:polys.map((p,i)=>[p[0][0],p[0][1],i]),encode:{x:0,y:1},
 renderItem:(params,api)=>({type:open?'polyline':'polygon',shape:{points:roundPath(polys[params.dataIndex].map(q=>api.coord(q)),!open)},style:Object.assign({fill:'none'},style)})};}

const panels=[
 {fills:[[aGreen1,C.g1],[aGrey1,C.k1],[aHoles,C.w],[aGreen2,C.g2],[aGreen3,C.g3],[aGrey2,C.k2],[aGrey3,C.k3],[aGrey4,C.k4],[aGrey5,C.k5]],
  lines:[[aBlack,S.black],[aBlackDash,S.bdash],[aGold,S.gold],[aOrange,S.or],[aOrangeDash,S.odash]]},
 {fills:[[bGreen1,C.g1],[bGrey1,C.k1],[bHoles,C.w],[bGreen2,C.g2],[bGrey2,C.k2],[bGrey3,C.k3],[bGrey4,C.k4],[bGrey5,C.k5]],
  lines:[[bBlack,S.black],[bBlackDash,S.bdash],[bGold,S.gold],[bGoldDash,S.gdash],[bOrange,S.or],[bOrangeDash,S.odash]]},
 {fills:[[cGreen1,C.g1],[cGrey1,C.k1],[cHoles,C.w],[cGreen2,C.g2],[cGreen3,C.g3],[cGrey2,C.k2],[cGrey3,C.k3]],
  lines:[[cBlack,S.black],[cBlackDash,S.bdash],[cOrange,S.or],[cOrangeDash,S.odash]]},
 {fills:[[dGreen1,C.g1],[dGrey1,C.k1],[dHoles,C.w],[dGreen2,C.g2],[dGrey2,C.k2],[dGrey3,C.k3]],
  lines:[[dBlack,S.black],[dBlackDash,S.bdash],[dGold,S.gold],[dGoldDash,S.gdash],[dOrange,S.or],[dOrangeDash,S.odash]]},
 {fills:[[eGreen1,C.g1],[eGrey1,C.k1],[eHoles,C.w],[eGreen2,C.g2],[eGrey2,C.k2],[eGrey3,C.k3],[eGrey4,C.k4],[eGrey5,C.k5]],
  lines:[[eOrangeDash,S.odash]]},
 {fills:[[fGreen1,C.g1],[fGrey1,C.k1],[fHoles,C.w],[fGreen2,C.g2],[fGrey2,C.k2],[fGrey3,C.k3],[fGrey4,C.k4],[fGrey5,C.k5]],
  lines:[[fBlack,S.black],[fBlackDash,S.bdash],[fGoldOpen,S.gold,true],[fGoldDash,S.gdash],[fOrange,S.or],[fOrangeDash,S.odash]]}];

const FONT='DejaVu Sans';
panels.forEach((p,g)=>{
 const col=g%2,row=Math.floor(g/2),L=gridLeft[col],T=gridTop[row];
 grids.push({left:L,top:T,width:568,height:236,containLabel:false});
 xAxes.push({type:'value',gridIndex:g,min:-60,max:60,interval:30,name:'pseudo lon',nameLocation:'middle',nameGap:25,
  nameTextStyle:{fontFamily:FONT,fontSize:18.8,color:'#000'},
  axisLine:{show:false,onZero:false},splitLine:{show:false},
  axisTick:{show:true,length:4,lineStyle:{color:'#000',width:1},customValues:lonTicks},
  axisLabel:{fontFamily:FONT,fontSize:15,color:'#000',margin:6,customValues:lonTicks,formatter:v=>v+'°',showMinLabel:true,showMaxLabel:true}});
 yAxes.push({type:'value',gridIndex:g,min:-25,max:25,name:'pseudo lat',nameLocation:'middle',nameGap:43,nameRotate:90,
  nameTextStyle:{fontFamily:FONT,fontSize:18.8,color:'#000'},
  axisLine:{show:false,onZero:false},splitLine:{show:false},
  axisTick:{show:true,length:4,lineStyle:{color:'#000',width:1},customValues:latTicks},
  axisLabel:{fontFamily:FONT,fontSize:15,color:'#000',margin:5,customValues:latTicks,formatter:v=>v+'°'}});
 p.fills.forEach(f=>series.push(fillSeries(g,f[0],f[1])));
 p.lines.forEach(l=>series.push(lineSeries(g,l[0],l[1],l[2])));
 series.push({type:'custom',xAxisIndex:g,yAxisIndex:g,silent:true,clip:false,z:4,data:[[-60,-25]],encode:{x:0,y:1},
  renderItem:(params,api)=>{const a=api.coord([-60,25]),b=api.coord([60,-25]);
   return{type:'rect',shape:{x:a[0],y:a[1],width:b[0]-a[0],height:b[1]-a[1]},style:{fill:'none',stroke:'#333',lineWidth:1}};}});
 titles.push({text:panelTitles[g],left:L+284,top:T-24,textAlign:'center',padding:0,textStyle:{fontFamily:FONT,fontSize:21.6,fontWeight:'normal',color:'#000'}});
 titles.push({text:panelLetters[g],left:L-46,top:T-29,padding:0,textStyle:{fontFamily:FONT,fontSize:19,fontWeight:'normal',color:'#000'}});
 if(panelCounts[g])titles.push({text:panelCounts[g],left:L+11,top:T-24,padding:0,textStyle:{fontFamily:FONT,fontSize:15.6,fontWeight:'normal',color:'#000'}});
});

// ---------- colour bar ----------
const cbarTicks=[0,1,2,3,4,6,7,8,9,10];
const cb=6;
grids.push({left:398,top:1020,width:588,height:25});
xAxes.push({type:'value',gridIndex:cb,min:0,max:10,interval:1,name:'convergence of IVT [kg m{s|−2} day{s|−1} ]',nameLocation:'middle',nameGap:26,
 nameTextStyle:{fontFamily:FONT,fontSize:15.7,color:'#000',rich:{s:{fontFamily:FONT,fontSize:11,verticalAlign:'top',color:'#000',padding:[0,0,6,0]}}},
 axisLine:{show:false,onZero:false},splitLine:{show:false},
 axisTick:{show:true,length:4,lineStyle:{color:'#000'},customValues:cbarTicks},
 axisLabel:{fontFamily:FONT,fontSize:16,color:'#000',margin:5,customValues:cbarTicks,formatter:v=>cbarLabels[Math.round(v)],showMinLabel:true,showMaxLabel:true}});
yAxes.push({type:'value',gridIndex:cb,min:0,max:1,show:false});
series.push({type:'custom',xAxisIndex:cb,yAxisIndex:cb,silent:true,clip:false,z:2,data:cbarColors.map((c,i)=>[i,0,i]),encode:{x:0,y:1},
 renderItem:(params,api)=>{const i=params.dataIndex,a=api.coord([i,1]),b=api.coord([i+1,0]);
  return{type:'rect',shape:{x:a[0],y:a[1],width:b[0]-a[0],height:b[1]-a[1]},style:{fill:cbarColors[i],stroke:null}};}});
const cbarEnds=[[0,-0.5,'#4b8a22'],[10,10.5,'#4d4d4d']];
series.push({type:'custom',xAxisIndex:cb,yAxisIndex:cb,silent:true,clip:false,z:3,data:cbarEnds.map(e=>[e[0],0]),encode:{x:0,y:1},
 renderItem:(params,api)=>{const e=cbarEnds[params.dataIndex];
  return{type:'polygon',shape:{points:[api.coord([e[0],1]),api.coord([e[1],0.5]),api.coord([e[0],0])]},style:{fill:e[2],stroke:null}};}});
series.push({type:'custom',xAxisIndex:cb,yAxisIndex:cb,silent:true,clip:false,z:4,data:[[0,0]],encode:{x:0,y:1},
 renderItem:(params,api)=>{const a=api.coord([0,1]),b=api.coord([10,0]);
  return{type:'polyline',shape:{points:[a,[b[0],a[1]]]},style:{fill:'none',stroke:'#000',lineWidth:0.8}};}});
series.push({type:'custom',xAxisIndex:cb,yAxisIndex:cb,silent:true,clip:false,z:4,data:[[0,0]],encode:{x:0,y:1},
 renderItem:(params,api)=>{const a=api.coord([0,0]),b=api.coord([10,0]);
  return{type:'polyline',shape:{points:[a,b]},style:{fill:'none',stroke:'#000',lineWidth:0.8}};}});

const chart=echarts.init(document.getElementById('c'),null,{renderer:'canvas'});
chart.setOption({animation:false,backgroundColor:'#fff',title:titles,grid:grids,xAxis:xAxes,yAxis:yAxes,series:series});
</script></body></html>
